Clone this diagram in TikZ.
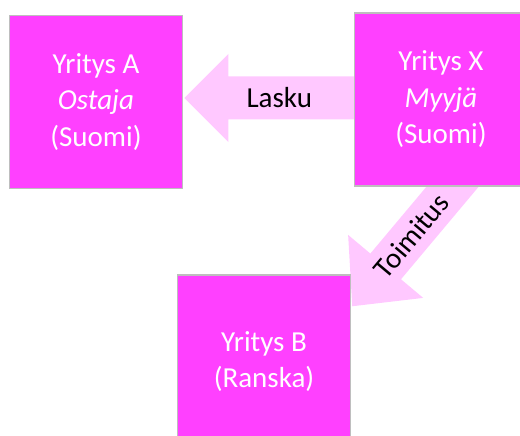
\documentclass[tikz,border=0pt]{standalone}
\usepackage{fontspec}
\setmainfont{Carlito}
\usetikzlibrary{calc,backgrounds}
\definecolor{laatikko}{RGB}{255,64,255}
\definecolor{reuna}{RGB}{190,190,190}
\definecolor{nuoli}{RGB}{255,200,255}
\tikzset{
  yritys/.style={draw=reuna, line width=1.5pt, fill=laatikko, minimum size=173pt,
    inner sep=0pt, text=white, align=center, font=\fontsize{29}{36.5}\selectfont},
  nuoliteksti/.style={text=black, inner sep=0pt, font=\fontsize{29}{36.5}\selectfont},
}
\begin{document}
\begin{tikzpicture}[x=1pt,y=-1pt]
  \useasboundingbox (0,0) rectangle (520,436);
  \node[yritys] (ya) at (96,102) {Yritys A\\\textit{Ostaja}\\(Suomi)};
  \node[yritys] (yx) at (441,99.5) {Yritys X\\\textit{Myyjä}\\(Suomi)};
  \node[yritys] (yb) at (264,361.5) {Yritys B\\(Ranska)};
  \coordinate (laskukarki) at ($(ya.east)+(1,-4)$);
  \coordinate (toimituskarki) at ($(yb.north east)+(1,32)$);
  \begin{pgfonlayer}{background}
    % lasku: X -> A
    \begin{scope}[shift={(laskukarki)}]
      \fill[nuoli] (0,0) -- (44,-44) -- (44,-21.5) -- (180,-21.5) -- (180,21.5)
        -- (44,21.5) -- (44,44) -- cycle;
      \node[nuoliteksti] (lasku) at (95,0) {Lasku};
    \end{scope}
    % toimitus: X -> B
    \begin{scope}[shift={(toimituskarki)}, rotate=50]
      \fill[nuoli] (0,0) -- (52,-49) -- (52,-20) -- (175,-20) -- (175,20)
        -- (52,20) -- (52,49) -- cycle;
      \node[nuoliteksti, rotate=50] (toimitus) at (92,0) {Toimitus};
    \end{scope}
  \end{pgfonlayer}
\end{tikzpicture}
\end{document}
